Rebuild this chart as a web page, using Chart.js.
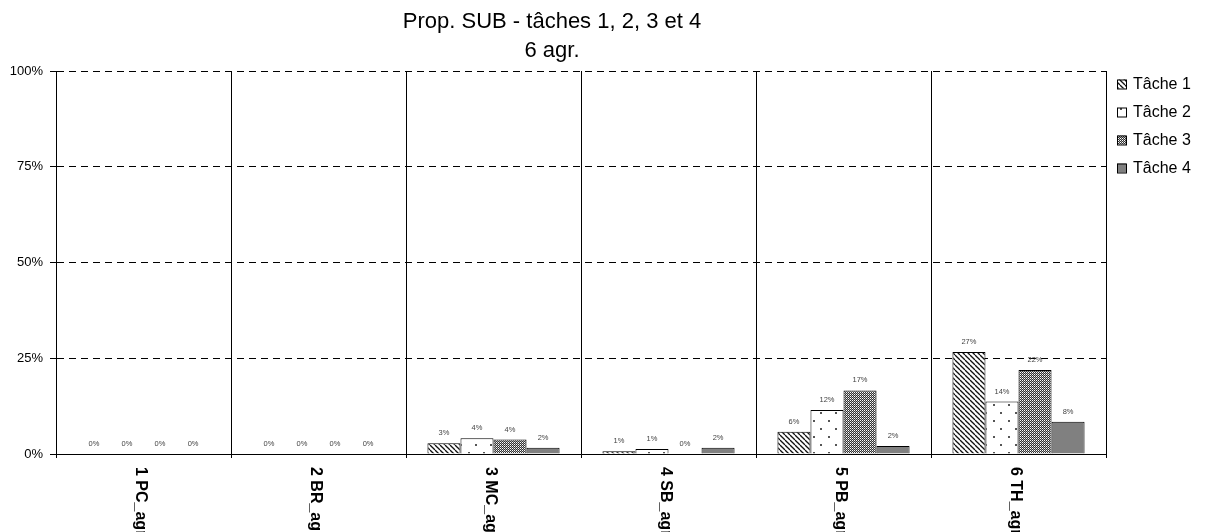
<!DOCTYPE html>
<html>
<head>
<meta charset="utf-8">
<script src="https://cdn.jsdelivr.net/npm/chart.js@4"></script>
<style>
  body { margin: 0; background: #fff; }
</style>
</head>
<body>
<canvas id="chart" width="1206" height="532"></canvas>
<script>
// data (percent)
const categories = ['1 PC_agr', '2 BR_agr', '3 MC_agr', '4 SB_agr', '5 PB_agr', '6 TH_agr']
const seriesNames = ['Tâche 1', 'Tâche 2', 'Tâche 3', 'Tâche 4']
const tache1 = [0, 0, 2.8, 0.7, 5.8, 26.6]
const tache2 = [0, 0, 4.1, 1.3, 11.5, 13.7]
const tache3 = [0, 0, 3.8, 0, 16.6, 21.9]
const tache4 = [0, 0, 1.6, 1.6, 2.1, 8.4]
const yTicks = [0, 25, 50, 75, 100]
const titleLines = ['Prop. SUB - tâches 1, 2, 3 et 4', '6 agr.']

const ctx = document.getElementById('chart').getContext('2d')

function makePattern(w, h, draw) {
  const c = document.createElement('canvas')
  c.width = w
  c.height = h
  const g = c.getContext('2d')
  draw(g)
  return ctx.createPattern(c, 'repeat')
}

// hatch patterns like the excel fills
const stripes = makePattern(5, 5, g => {
  g.fillStyle = '#fff'
  g.fillRect(0, 0, 5, 5)
  g.strokeStyle = '#111'
  g.lineWidth = 1.3
  for (let k = -1; k <= 1; k++) {
    g.beginPath()
    g.moveTo(k * 5, 0)
    g.lineTo(k * 5 + 5, 5)
    g.stroke()
  }
})
const dots = makePattern(15, 16, g => {
  g.fillStyle = '#fff'
  g.fillRect(0, 0, 15, 16)
  g.fillStyle = '#555'
  g.fillRect(3, 4, 2, 2)
  g.fillRect(10, 12, 2, 2)
})
const checker = makePattern(2, 2, g => {
  g.fillStyle = '#333'
  g.fillRect(0, 0, 2, 2)
  g.fillStyle = '#fff'
  g.fillRect(0, 0, 1, 1)
  g.fillStyle = '#aaa'
  g.fillRect(1, 1, 1, 1)
})
const fills = [stripes, dots, checker, '#808080']

const extras = {
  id: 'extras',
  afterDatasetsDraw(chart) {
    const c = chart.ctx
    c.save()
    c.font = '7.5px Arial'
    c.fillStyle = '#444'
    c.textAlign = 'center'
    c.textBaseline = 'middle'
    chart.data.datasets.forEach((ds, i) => {
      chart.getDatasetMeta(i).data.forEach((bar, j) => {
        c.fillText(Math.round(ds.data[j]) + '%', bar.x, bar.y - 10)
      })
    })
    c.restore()
  },
  afterDraw(chart) {
    const c = chart.ctx
    const xs = chart.scales.x
    c.save()
    // category labels, rotated to read downwards
    c.font = 'bold 16px Arial'
    c.fillStyle = '#000'
    c.textAlign = 'left'
    c.textBaseline = 'middle'
    categories.forEach((lab, i) => {
      c.save()
      c.translate(xs.getPixelForTick(i) - 3, xs.top + 13)
      c.rotate(Math.PI / 2)
      c.fillText(lab, 0, 0)
      c.restore()
    })
    // title
    c.font = '22px Arial'
    c.textAlign = 'center'
    c.textBaseline = 'alphabetic'
    c.fillText(titleLines[0], 552, 28)
    c.fillText(titleLines[1], 552, 57)
    // legend
    c.font = '16px Arial'
    c.textAlign = 'left'
    c.textBaseline = 'middle'
    chart.data.datasets.forEach((ds, i) => {
      const y = 84 + i * 28
      c.fillStyle = ds.backgroundColor
      c.fillRect(1117, y - 4.5, 9, 9)
      c.strokeStyle = '#000'
      c.lineWidth = 1
      c.strokeRect(1117.5, y - 4, 9, 9)
      c.fillStyle = '#000'
      c.fillText(ds.label, 1133, y + 1)
    })
    c.restore()
  }
}

const datasets = [tache1, tache2, tache3, tache4].map((d, i) => ({
  label: seriesNames[i],
  data: d,
  backgroundColor: fills[i],
  borderColor: '#000',
  borderWidth: 1,
  borderSkipped: 'start',
  categoryPercentage: 0.755,
  barPercentage: 1
}))

const myChart = new Chart(ctx, {
  type: 'bar',
  data: { labels: categories, datasets: datasets },
  options: {
    responsive: false,
    animation: false,
    layout: { padding: { top: 71, right: 100, left: 0, bottom: 0 } },
    plugins: {
      legend: { display: false },
      title: { display: false },
      tooltip: { enabled: false }
    },
    scales: {
      x: {
        afterFit: s => { s.height = 78 },
        ticks: { display: false },
        grid: { color: '#000', lineWidth: 1, offset: true, drawTicks: true, tickLength: 4, tickColor: '#000' },
        border: { color: '#000', width: 1 }
      },
      y: {
        min: 0,
        max: 100,
        afterFit: s => { s.width = 56 },
        afterBuildTicks: s => { s.ticks = yTicks.map(v => ({ value: v })) },
        ticks: {
          color: '#000',
          font: { family: 'Arial', size: 13 },
          padding: 7,
          callback: v => v + '%'
        },
        grid: { color: '#000', lineWidth: 1, tickLength: 6, tickColor: '#000' },
        border: { color: '#000', width: 1, dash: c => c.tick && c.tick.value === 0 ? [] : [7, 5] }
      }
    }
  },
  plugins: [extras]
})
</script>
</body>
</html>
